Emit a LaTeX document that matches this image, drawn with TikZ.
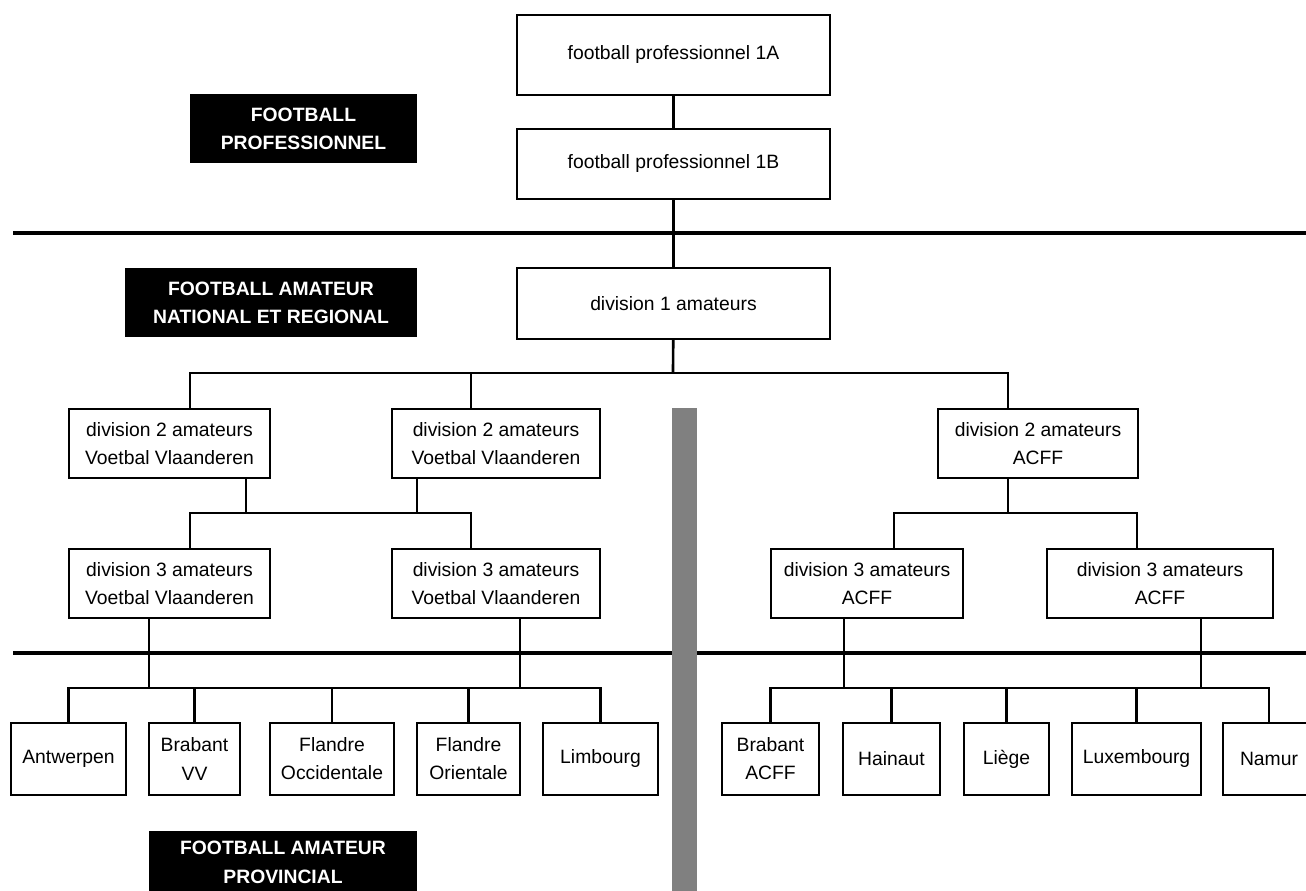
\documentclass[tikz,border=0pt]{standalone}
\usepackage{fontspec}
\setmainfont{Liberation Sans}
\definecolor{bargray}{RGB}{128,128,128}
\tikzset{
  box/.style 2 args={draw, line width=1.1pt, align=center, inner sep=0pt,
    minimum width=#1*0.02cm, minimum height=#2*0.02cm,
    font=\fontsize{11}{16}\selectfont},
  hdr/.style 2 args={fill=black, text=white, align=center, inner sep=0pt,
    minimum width=#1*0.02cm, minimum height=#2*0.02cm,
    font=\fontsize{11}{16}\selectfont\bfseries},
  link/.style={line width=1.5pt},
  sepline/.style={line width=1.9pt}
}
\begin{document}
\begin{tikzpicture}[x=0.02cm,y=-0.02cm]
    \useasboundingbox (0,0) rectangle (1306,891);
    % level separators
    \draw[sepline] (13,233) -- (1306,233);
    \draw[sepline] (13,653) -- (1306,653);
    \fill[bargray] (672,408) rectangle (697,891);

    % headings
    \node (lpro)  [hdr={227}{69}] at (303.5,128.5) {FOOTBALL\\PROFESSIONNEL};
    \node (lnat)  [hdr={292}{69}] at (271,302.5) {FOOTBALL AMATEUR\\NATIONAL ET REGIONAL};
    \node (lprov) [hdr={268}{90}, anchor=north] at (283,831) {FOOTBALL AMATEUR\\PROVINCIAL\\~};

    % national levels
    \node (p1a) [box={313}{80}] at (673.5,55)    {football professionnel 1A};
    \node (p1b) [box={313}{70}] at (673.5,164)   {football professionnel 1B};
    \node (d1)  [box={313}{71}] at (673.5,303.5) {division 1 amateurs};
    \node (d2a) [box={201}{69}] at (169.5,443.5) {division 2 amateurs\\Voetbal Vlaanderen};
    \node (d2b) [box={208}{69}] at (496,443.5)   {division 2 amateurs\\Voetbal Vlaanderen};
    \node (d2c) [box={200}{69}] at (1038,443.5)  {division 2 amateurs\\ACFF};
    \node (d3a) [box={201}{69}] at (169.5,583.5) {division 3 amateurs\\Voetbal Vlaanderen};
    \node (d3b) [box={208}{69}] at (496,583.5)   {division 3 amateurs\\Voetbal Vlaanderen};
    \node (d3c) [box={192}{69}] at (867,583.5)   {division 3 amateurs\\ACFF};
    \node (d3d) [box={226}{69}] at (1160,583.5)  {division 3 amateurs\\ACFF};

    % provinces
    \foreach \n/\x/\w/\t in {pa/68.5/115/Antwerpen, pb/194.5/91/{Brabant\\VV},
        pc/332/124/{Flandre\\Occidentale}, pd/468.5/103/{Flandre\\Orientale},
        pe/600.5/115/Limbourg, pf/770.5/97/{Brabant\\ACFF}, pg/891.5/97/Hainaut,
        ph/1006.5/85/Liège, pi/1136.5/129/Luxembourg, pj/1269/92/Namur}
        \node (\n) [box={\w}{72}] at (\x,759) {\t};

    % bus points
    \coordinate (j1) at (673,373);
    \coordinate (j2) at (331,513);
    \coordinate (j3) at (1008,513);
    \coordinate (j4) at (335,688);
    \coordinate (j5) at (1020,688);

    \draw[link] (p1a) -- (p1b);
    \draw[link] (p1b) -- (d1);
    \draw[link] (d1) -- (j1);
    \draw[link] (d2a.north -| 190,0) |- (j1) -| (d2c.north -| 1008,0);
    \draw[link] (d2b.north -| 471,0) |- (j1);
    \draw[link] (d2a.south -| 246,0) |- (j2);
    \draw[link] (d2b.south -| 417,0) |- (j2);
    \draw[link] (d3a.north -| 190,0) |- (j2) -| (d3b.north -| 471,0);
    \draw[link] (d2c.south -| 1008,0) -- (j3);
    \draw[link] (d3c.north -| 894,0) |- (j3) -| (d3d.north -| 1137,0);
    \draw[link] (d3a.south -| 149,0) |- (j4);
    \draw[link] (d3b.south -| 520,0) |- (j4);
    \draw[link] (pa) |- (j4) -| (pe);
    \foreach \n in {pb,pc,pd} \draw[link] (\n) |- (j4);
    \draw[link] (d3c.south -| 844,0) |- (j5);
    \draw[link] (d3d.south -| 1201,0) |- (j5);
    \draw[link] (pf) |- (j5) -| (pj);
    \foreach \n in {pg,ph,pi} \draw[link] (\n) |- (j5);
\end{tikzpicture}
\end{document}
